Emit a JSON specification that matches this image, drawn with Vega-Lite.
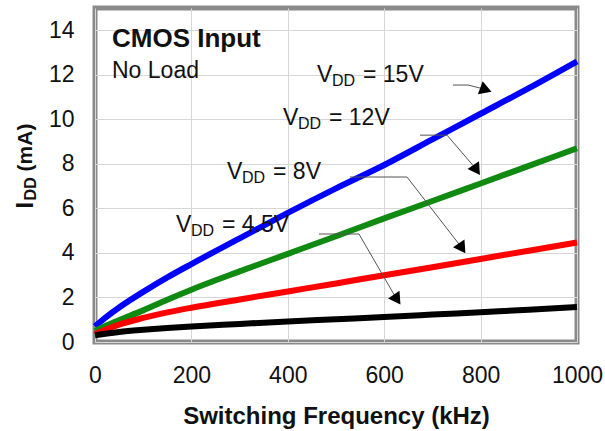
{
  "$schema": "https://vega.github.io/schema/vega-lite/v6.json",
  "width": 482,
  "height": 334,
  "autosize": {"type": "none"},
  "padding": {"left": 95, "top": 8, "right": 28, "bottom": 89},
  "background": "white",
  "config": {
    "font": "Liberation Sans",
    "view": {"stroke": "#8a8a8a", "strokeWidth": 5}
  },
  "datasets": {
    "curves": [
      {"vdd": "15V", "kHz": 0, "mA": 0.7}, {"vdd": "15V", "kHz": 25, "mA": 1.15}, {"vdd": "15V", "kHz": 50, "mA": 1.55},
      {"vdd": "15V", "kHz": 100, "mA": 2.25}, {"vdd": "15V", "kHz": 150, "mA": 2.9}, {"vdd": "15V", "kHz": 200, "mA": 3.5},
      {"vdd": "15V", "kHz": 300, "mA": 4.65}, {"vdd": "15V", "kHz": 400, "mA": 5.8}, {"vdd": "15V", "kHz": 500, "mA": 6.9},
      {"vdd": "15V", "kHz": 600, "mA": 7.95}, {"vdd": "15V", "kHz": 700, "mA": 9.1}, {"vdd": "15V", "kHz": 800, "mA": 10.25},
      {"vdd": "15V", "kHz": 900, "mA": 11.4}, {"vdd": "15V", "kHz": 1000, "mA": 12.6},
      {"vdd": "12V", "kHz": 0, "mA": 0.5}, {"vdd": "12V", "kHz": 25, "mA": 0.75}, {"vdd": "12V", "kHz": 50, "mA": 0.98},
      {"vdd": "12V", "kHz": 100, "mA": 1.42}, {"vdd": "12V", "kHz": 150, "mA": 1.9}, {"vdd": "12V", "kHz": 200, "mA": 2.35},
      {"vdd": "12V", "kHz": 300, "mA": 3.17}, {"vdd": "12V", "kHz": 400, "mA": 3.96}, {"vdd": "12V", "kHz": 500, "mA": 4.75},
      {"vdd": "12V", "kHz": 600, "mA": 5.55}, {"vdd": "12V", "kHz": 700, "mA": 6.33}, {"vdd": "12V", "kHz": 800, "mA": 7.12},
      {"vdd": "12V", "kHz": 900, "mA": 7.91}, {"vdd": "12V", "kHz": 1000, "mA": 8.7},
      {"vdd": "8V", "kHz": 0, "mA": 0.35}, {"vdd": "8V", "kHz": 25, "mA": 0.58}, {"vdd": "8V", "kHz": 50, "mA": 0.78},
      {"vdd": "8V", "kHz": 100, "mA": 1.08}, {"vdd": "8V", "kHz": 150, "mA": 1.33}, {"vdd": "8V", "kHz": 200, "mA": 1.54},
      {"vdd": "8V", "kHz": 300, "mA": 1.91}, {"vdd": "8V", "kHz": 400, "mA": 2.27}, {"vdd": "8V", "kHz": 500, "mA": 2.63},
      {"vdd": "8V", "kHz": 600, "mA": 3.0}, {"vdd": "8V", "kHz": 700, "mA": 3.36}, {"vdd": "8V", "kHz": 800, "mA": 3.73},
      {"vdd": "8V", "kHz": 900, "mA": 4.1}, {"vdd": "8V", "kHz": 1000, "mA": 4.47},
      {"vdd": "4.5V", "kHz": 0, "mA": 0.3}, {"vdd": "4.5V", "kHz": 25, "mA": 0.38}, {"vdd": "4.5V", "kHz": 50, "mA": 0.45},
      {"vdd": "4.5V", "kHz": 100, "mA": 0.55}, {"vdd": "4.5V", "kHz": 150, "mA": 0.63}, {"vdd": "4.5V", "kHz": 200, "mA": 0.7},
      {"vdd": "4.5V", "kHz": 300, "mA": 0.81}, {"vdd": "4.5V", "kHz": 400, "mA": 0.92}, {"vdd": "4.5V", "kHz": 500, "mA": 1.02},
      {"vdd": "4.5V", "kHz": 600, "mA": 1.12}, {"vdd": "4.5V", "kHz": 700, "mA": 1.23}, {"vdd": "4.5V", "kHz": 800, "mA": 1.34},
      {"vdd": "4.5V", "kHz": 900, "mA": 1.45}, {"vdd": "4.5V", "kHz": 1000, "mA": 1.57}
    ],
    "arrows": [
      {"id": "15V", "k": 0, "kHz": 742.7, "mA": 11.54}, {"id": "15V", "k": 1, "kHz": 773.9, "mA": 11.54}, {"id": "15V", "k": 2, "kHz": 807.1, "mA": 11.36},
      {"id": "12V", "k": 0, "kHz": 674.3, "mA": 9.29}, {"id": "12V", "k": 1, "kHz": 730.3, "mA": 9.29}, {"id": "12V", "k": 2, "kHz": 789.4, "mA": 7.8},
      {"id": "8V", "k": 0, "kHz": 529.0, "mA": 7.41}, {"id": "8V", "k": 1, "kHz": 647.3, "mA": 7.41}, {"id": "8V", "k": 2, "kHz": 759.3, "mA": 4.28},
      {"id": "4.5V", "k": 0, "kHz": 464.7, "mA": 4.85}, {"id": "4.5V", "k": 1, "kHz": 547.7, "mA": 4.85}, {"id": "4.5V", "k": 2, "kHz": 624.5, "mA": 1.98}
    ],
    "heads": [
      {"id": "15V", "kHz": 807.1, "mA": 11.36},
      {"id": "12V", "kHz": 789.4, "mA": 7.8},
      {"id": "8V", "kHz": 759.3, "mA": 4.28},
      {"id": "4.5V", "kHz": 624.5, "mA": 1.98}
    ],
    "labels": [
      {"id": "15V", "kHz": 460.6, "mA": 11.99, "rest": "= 15V"},
      {"id": "12V", "kHz": 390.0, "mA": 10.06, "rest": "= 12V"},
      {"id": "8V", "kHz": 273.9, "mA": 7.63, "rest": "= 8V"},
      {"id": "4.5V", "kHz": 168.0, "mA": 5.25, "rest": "= 4.5V"}
    ],
    "title1": [{"kHz": 35.3, "mA": 13.62, "txt": "CMOS Input"}],
    "title2": [{"kHz": 35.3, "mA": 12.18, "txt": "No Load"}],
    "ytitle": [{"kHz": -143, "mA": 6.0}]
  },
  "encoding": {
    "x": {
      "field": "kHz", "type": "quantitative",
      "scale": {"domain": [0, 1000], "nice": false, "zero": false},
      "axis": {
        "values": [0, 200, 400, 600, 800, 1000],
        "format": "d",
        "labelFlush": false,
        "title": "Switching Frequency (kHz)",
        "titleFontSize": 24, "titleFontWeight": "bold", "titleColor": "#111",
        "titleY": 62, "titleBaseline": "top",
        "labelFontSize": 23, "labelColor": "#111", "labelPadding": 22,
        "domain": false, "ticks": false,
        "grid": true, "gridColor": "#d6d6d6", "gridWidth": 1
      }
    },
    "y": {
      "field": "mA", "type": "quantitative",
      "scale": {"domain": [0, 15], "nice": false, "zero": true},
      "axis": {
        "values": [0, 2, 4, 6, 8, 10, 12, 14],
        "title": null,
        "labelFontSize": 23, "labelColor": "#111", "labelPadding": 21,
        "domain": false, "ticks": false,
        "grid": true, "gridColor": "#d6d6d6", "gridWidth": 1
      }
    }
  },
  "layer": [
    {
      "data": {"name": "curves"},
      "mark": {"type": "line", "strokeWidth": 6, "interpolate": "monotone"},
      "encoding": {
        "color": {
          "field": "vdd", "type": "nominal",
          "scale": {"domain": ["15V", "12V", "8V", "4.5V"], "range": ["#0000ff", "#108a10", "#ff0000", "#000000"]},
          "legend": null
        }
      }
    },
    {
      "data": {"name": "arrows"},
      "mark": {"type": "line", "color": "#555555", "strokeWidth": 1},
      "encoding": {
        "detail": {"field": "id", "type": "nominal"},
        "order": {"field": "k", "type": "quantitative"}
      }
    },
    {
      "data": {"name": "heads"},
      "transform": [{"filter": "datum.id === '15V'"}],
      "mark": {"type": "point", "shape": "triangle", "filled": true, "color": "#000", "opacity": 1, "size": 190, "angle": 110}
    },
    {
      "data": {"name": "heads"},
      "transform": [{"filter": "datum.id !== '15V'"}],
      "mark": {"type": "point", "shape": "triangle", "filled": true, "color": "#000", "opacity": 1, "size": 190, "angle": 146}
    },
    {
      "data": {"name": "labels"},
      "mark": {"type": "text", "text": "V", "align": "left", "baseline": "middle", "fontSize": 23, "color": "#111"}
    },
    {
      "data": {"name": "labels"},
      "mark": {"type": "text", "text": "DD", "align": "left", "baseline": "middle", "fontSize": 16, "dx": 15, "dy": 6, "color": "#111"}
    },
    {
      "data": {"name": "labels"},
      "mark": {"type": "text", "align": "left", "baseline": "middle", "fontSize": 23, "dx": 46, "color": "#111"},
      "encoding": {"text": {"field": "rest"}}
    },
    {
      "data": {"name": "title1"},
      "mark": {"type": "text", "align": "left", "baseline": "middle", "fontSize": 26, "fontWeight": "bold", "color": "#111"},
      "encoding": {"text": {"field": "txt"}}
    },
    {
      "data": {"name": "title2"},
      "mark": {"type": "text", "align": "left", "baseline": "middle", "fontSize": 23, "color": "#111"},
      "encoding": {"text": {"field": "txt"}}
    },
    {
      "data": {"name": "ytitle"},
      "mark": {"type": "text", "text": "I", "angle": -90, "align": "left", "baseline": "middle", "fontSize": 24, "fontWeight": "bold", "color": "#111"}
    },
    {
      "data": {"name": "ytitle"},
      "mark": {"type": "text", "text": "DD", "angle": -90, "align": "left", "baseline": "middle", "fontSize": 16, "fontWeight": "bold", "dx": 8, "dy": 5, "color": "#111"}
    },
    {
      "data": {"name": "ytitle"},
      "mark": {"type": "text", "text": "(mA)", "angle": -90, "align": "left", "baseline": "middle", "fontSize": 21, "fontWeight": "bold", "dx": 37, "color": "#111"}
    }
  ]
}
